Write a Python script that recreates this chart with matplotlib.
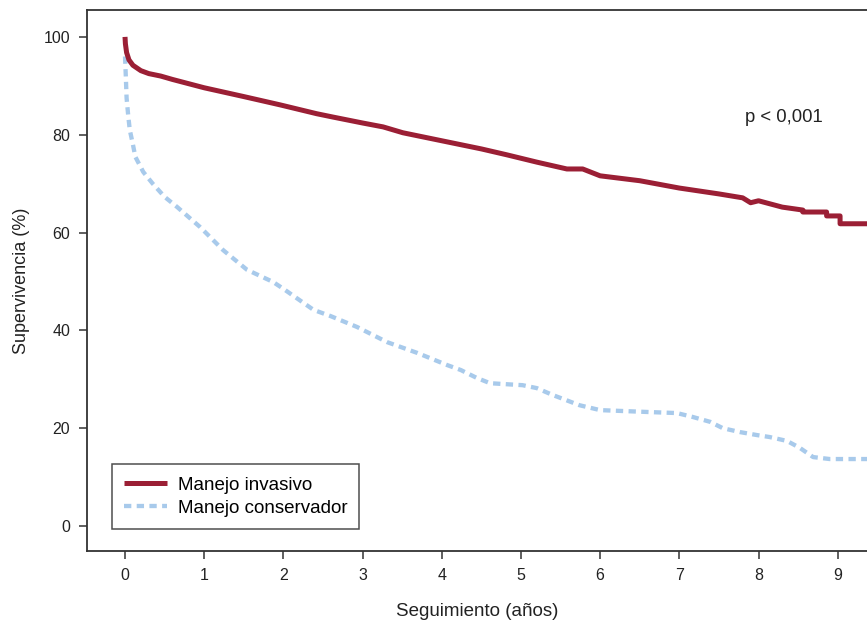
import matplotlib
matplotlib.use("Agg")
import matplotlib.pyplot as plt

plt.rcParams["font.family"] = ["Liberation Sans", "DejaVu Sans"]

# Kaplan-Meier style curves
invasivo_t = [0.0, 0.005, 0.02, 0.05, 0.1, 0.2, 0.3, 0.45, 0.6, 1.0, 1.5, 1.96, 2.42, 2.63,
              3.0, 3.26, 3.51, 4.14, 4.5, 4.82, 5.2, 5.58, 5.78, 6.0, 6.5, 7.0, 7.5, 7.8,
              7.9, 8.0, 8.3, 8.56, 8.56, 8.86, 8.86, 9.03, 9.03, 9.4]
invasivo_s = [100.0, 98.6, 96.8, 95.3, 94.2, 93.1, 92.5, 92.0, 91.3, 89.6, 87.8, 86.1, 84.3, 83.6,
              82.4, 81.6, 80.4, 78.3, 77.1, 75.9, 74.4, 73.0, 73.0, 71.6, 70.6, 69.1, 67.9, 67.1,
              66.1, 66.5, 65.2, 64.6, 64.2, 64.2, 63.4, 63.4, 61.8, 61.8]

conservador_t = [0.0, 0.01, 0.02, 0.04, 0.06, 0.1, 0.13, 0.23, 0.35, 0.5, 0.66, 0.95,
                 1.24, 1.54, 1.87, 2.0, 2.38, 2.6, 2.93, 3.31, 3.69, 4.07, 4.24, 4.44,
                 4.61, 5.02, 5.2, 5.4, 5.74, 6.0, 6.63, 6.97, 7.17, 7.39, 7.55, 7.77,
                 7.98, 8.14, 8.36, 8.52, 8.69, 8.9, 9.4]
conservador_s = [96.0, 92.0, 87.5, 84.0, 81.0, 78.0, 75.5, 72.4, 70.0, 67.3, 65.2, 61.1,
                 56.4, 52.4, 49.9, 48.5, 44.2, 42.9, 40.7, 37.6, 35.4, 32.9, 31.9, 30.3,
                 29.2, 28.8, 28.2, 26.8, 24.7, 23.7, 23.3, 23.1, 22.3, 21.3, 20.0, 19.2,
                 18.6, 18.2, 17.4, 16.0, 14.1, 13.7, 13.7]

x_ticks = list(range(0, 10))
y_ticks = [0, 20, 40, 60, 80, 100]

RED = "#9b1f35"
BLUE = "#a8caeb"
SPINE = "#333333"

fig = plt.figure(figsize=(8.67, 6.23), dpi=100)
ax = fig.add_axes([87 / 867, 1 - 551 / 623, 1 - 87 / 867, (551 - 10) / 623])

ax.plot(conservador_t, conservador_s, color=BLUE, lw=3.1, dashes=(1.7, 1.25),
        dash_capstyle="butt", solid_joinstyle="round", label="Manejo conservador", zorder=2)
ax.plot(invasivo_t, invasivo_s, color=RED, lw=3.6, solid_capstyle="butt",
        solid_joinstyle="round", label="Manejo invasivo", zorder=3)

ax.set_xlim(-0.48, 9.37)
ax.set_ylim(-5.1, 105.5)
ax.set_xticks(x_ticks)
ax.set_yticks(y_ticks)
ax.tick_params(direction="out", length=6, width=1.1, color=SPINE,
               labelsize=11.5, labelcolor="#222222", pad=6)

for side in ("left", "bottom", "top"):
    ax.spines[side].set_color(SPINE)
    ax.spines[side].set_linewidth(1.3)
ax.spines["right"].set_visible(False)

ax.set_xlabel("Seguimiento (años)", fontsize=13.5, color="#222222", labelpad=15)
ax.set_ylabel("Supervivencia (%)", fontsize=13, color="#222222", labelpad=10)

ax.text(7.83, 83.6, "p < 0,001", fontsize=13.3, color="#222222", va="center")

handles, labels = ax.get_legend_handles_labels()
leg = ax.legend(handles[::-1], labels[::-1], loc="lower left",
                bbox_to_anchor=(0.032, 0.041), fontsize=13.5, frameon=True,
                fancybox=False, handlelength=2.3, handletextpad=0.55,
                borderpad=0.65, labelspacing=0.32, borderaxespad=0)
leg.get_frame().set_edgecolor("#222222")
leg.get_frame().set_linewidth(1.1)

fig.savefig("out.png", dpi=100)
